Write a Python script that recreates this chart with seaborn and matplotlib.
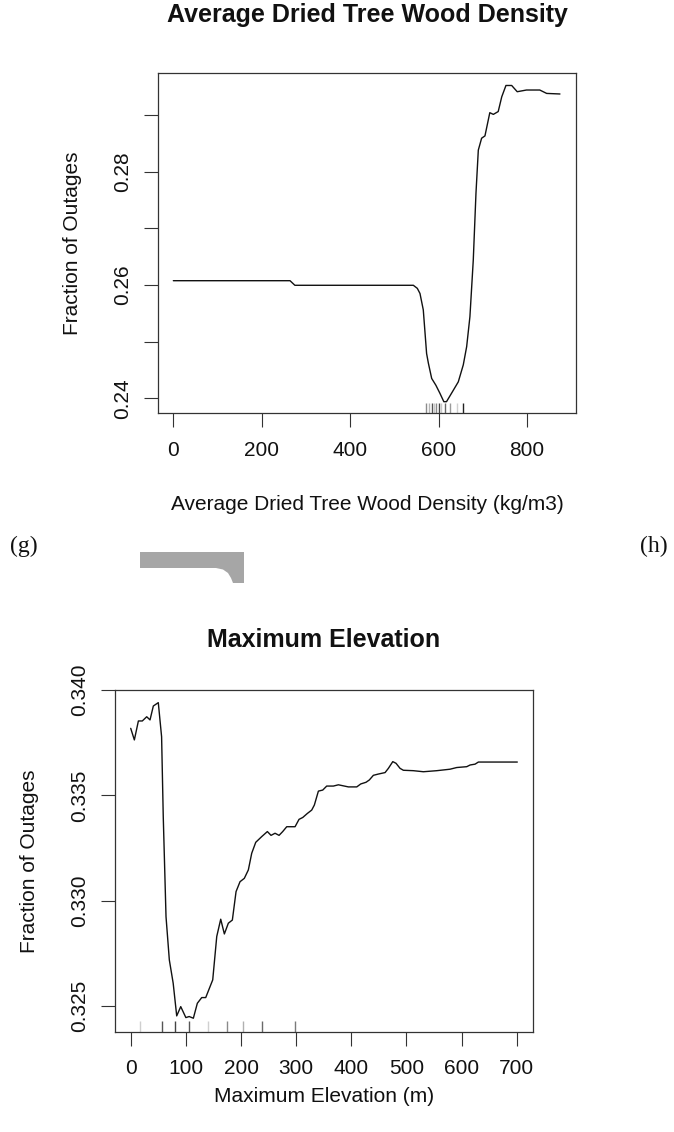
import numpy as np
import pandas as pd
import matplotlib
matplotlib.use("Agg")
import matplotlib.pyplot as plt
from matplotlib.patches import Polygon
import seaborn as sns

# ---------------- data ----------------
density_x = [0, 264, 275, 543, 552, 558, 565.5, 573, 577, 584.5, 594, 603, 612, 618,
             629.5, 644.7, 656, 663.6, 671, 678.6, 684.7, 690, 697.5, 705, 716, 724,
             735, 743, 752.5, 765.5, 778, 799, 829, 844.6, 874.7]
density_y = [0.26075, 0.26075, 0.25994, 0.25994, 0.2594, 0.2585, 0.2556, 0.2479, 0.2462,
             0.2435, 0.2423, 0.2409, 0.2394, 0.2394, 0.2409, 0.2429, 0.2459, 0.2491,
             0.2544, 0.2644, 0.2762, 0.2838, 0.2859, 0.2863, 0.2904, 0.2901, 0.2906,
             0.2932, 0.2952, 0.2952, 0.2941, 0.2944, 0.2944, 0.2938, 0.2937]
density_rug = [571.6, 579, 584.5, 589, 594, 600, 604.7, 614.4, 625.7, 640.8, 655.7]
density_rug_shade = ["#8c8c8c", "#b5b5b5", "#555555", "#c8c8c8", "#8c8c8c", "#444444",
                     "#c8c8c8", "#666666", "#9a9a9a", "#d0d0d0", "#222222"]
density_yticks = [0.24, 0.25, 0.26, 0.27, 0.28, 0.29]
density_ytick_labels = ["0.24", "", "0.26", "", "0.28", ""]
density_xticks = [0, 200, 400, 600, 800]

elev_x = [0, 6.6, 13.9, 21, 29, 35, 41, 50, 56, 59, 64, 70, 77, 83.4, 90.7, 100, 106,
          113.6, 120.8, 128.8, 136, 148.7, 156, 163.2, 169.8, 177, 184.3, 191, 198.2,
          206, 213.3, 219.4, 226.7, 237.5, 247.8, 254.4, 261.7, 269, 275.6, 282.9, 298,
          305.2, 312, 320.3, 328.2, 333, 340.3, 348.2, 355.4, 367.5, 376.6, 394.7, 409.9,
          417.1, 426.7, 432.7, 440, 449, 461.2, 467.2, 475.2, 481.1, 488.4, 494.4, 512.5,
          530.7, 555, 579, 591.2, 609.3, 615.4, 624.4, 630.4, 701]
elev_y = [0.33818, 0.33763, 0.33853, 0.33853, 0.33873, 0.33858, 0.33924, 0.3394, 0.33778,
          0.33399, 0.32924, 0.32719, 0.32608, 0.32453, 0.32497, 0.32445, 0.3245, 0.32442,
          0.32513, 0.3254, 0.3254, 0.32624, 0.3283, 0.32912, 0.32842, 0.32893, 0.32908,
          0.33043, 0.3309, 0.33106, 0.33146, 0.33225, 0.33277, 0.33304, 0.33328, 0.3331,
          0.3332, 0.3331, 0.33328, 0.33351, 0.33351, 0.33386, 0.33395, 0.33414, 0.3343,
          0.33454, 0.3352, 0.33525, 0.33544, 0.33544, 0.3355, 0.3354, 0.3354, 0.33554,
          0.33562, 0.33573, 0.33595, 0.33601, 0.33608, 0.33628, 0.3366, 0.33652, 0.33628,
          0.33619, 0.33617, 0.33612, 0.33617, 0.33624, 0.33632, 0.33636, 0.33644, 0.33648,
          0.33658, 0.33658]
elev_rug = [16.9, 56, 79.7, 106, 140.5, 173.7, 203.9, 238.3, 298.7]
elev_rug_shade = ["#cfcfcf", "#555555", "#444444", "#555555", "#d0d0d0", "#8a8a8a",
                  "#b0b0b0", "#6a6a6a", "#7a7a7a"]
elev_yticks = [0.325, 0.330, 0.335, 0.340]
elev_ytick_labels = ["0.325", "0.330", "0.335", "0.340"]
elev_xticks = [0, 100, 200, 300, 400, 500, 600, 700]

title_top = "Average Dried Tree Wood Density"
xlabel_top = "Average Dried Tree Wood Density (kg/m3)"
title_bot = "Maximum Elevation"
xlabel_bot = "Maximum Elevation (m)"
ylabel = "Fraction of Outages"

# ---------------- style ----------------
sns.set_theme(style="white")
plt.rcParams["font.family"] = ["Liberation Sans", "DejaVu Sans"]

W, H = 674, 1132
fig = plt.figure(figsize=(W / 100, H / 100), dpi=100)


def fx(p):
    return p / W


def fy(p):
    return 1 - p / H


def make_axes(left, top, right, bottom):
    return fig.add_axes([fx(left), fy(bottom), fx(right) - fx(left), fy(top) - fy(bottom)])


ax1 = make_axes(158.3, 73.3, 576, 413.3)
ax2 = make_axes(115, 690, 533.3, 1031.7)

df1 = pd.DataFrame({"x": density_x, "y": density_y})
df2 = pd.DataFrame({"x": elev_x, "y": elev_y})

sns.lineplot(data=df1, x="x", y="y", ax=ax1, color="#111111", lw=1.0, estimator=None, sort=False)
sns.lineplot(data=df2, x="x", y="y", ax=ax2, color="#111111", lw=1.0, estimator=None, sort=False)

for v, c in zip(density_rug, density_rug_shade):
    sns.rugplot(x=[v], ax=ax1, height=0.03, color=c, lw=0.9)
for v, c in zip(elev_rug, elev_rug_shade):
    sns.rugplot(x=[v], ax=ax2, height=0.03, color=c, lw=0.9)

ax1.set_xlim(-34, 911)
ax1.set_ylim(0.23735, 0.29735)
ax2.set_xlim(-28.5, 730)
ax2.set_ylim(0.32378, 0.340)

FS = 15
for ax, xt, yt, ytl in [(ax1, density_xticks, density_yticks, density_ytick_labels),
                         (ax2, elev_xticks, elev_yticks, elev_ytick_labels)]:
    ax.set_xticks(xt)
    ax.set_xticklabels([str(t) for t in xt], fontsize=FS, color="#111111")
    ax.set_yticks(yt)
    ax.set_yticklabels(ytl, fontsize=FS, rotation=90, va="center", color="#111111")
    ax.tick_params(axis="both", which="major", direction="out", length=9.8, width=0.8,
                   color="#333333", left=True, bottom=True)
    ax.tick_params(axis="x", pad=10)
    ax.tick_params(axis="y", pad=9)
    for s in ax.spines.values():
        s.set_visible(True)
        s.set_color("#333333")
        s.set_linewidth(0.9)
    ax.grid(False)

ax1.set_xlabel(xlabel_top, fontsize=FS, color="#111111", va="center")
ax1.xaxis.set_label_coords(0.5, -(505 - 413.3) / 340)
ax1.set_ylabel(ylabel, fontsize=FS, color="#111111", va="center")
ax1.yaxis.set_label_coords(-(158.3 - 73) / 417.7, 0.5)

ax2.set_xlabel(xlabel_bot, fontsize=FS, color="#111111", va="center")
ax2.xaxis.set_label_coords(0.5, -(1097 - 1031.7) / 341.7)
ax2.set_ylabel(ylabel, fontsize=FS, color="#111111", va="center")
ax2.yaxis.set_label_coords(-(115 - 30) / 418.3, 0.5)

fig.text(fx(367), fy(15), title_top, fontsize=18, fontweight="bold", ha="center", va="center", color="#111111")
fig.text(fx(324), fy(640), title_bot, fontsize=18, fontweight="bold", ha="center", va="center", color="#111111")

fig.text(fx(24), fy(546), "(g)", fontsize=17, ha="center", va="center",
         family=["Liberation Serif", "DejaVu Serif"], color="#111111")
fig.text(fx(654), fy(546), "(h)", fontsize=17, ha="center", va="center",
         family=["Liberation Serif", "DejaVu Serif"], color="#111111")

shape_px = [(140, 552), (244, 552), (244, 583), (233, 583), (231, 578), (228, 573),
            (223, 569.5), (216, 568), (140, 568)]
poly = Polygon([(fx(a), fy(b)) for a, b in shape_px], closed=True, transform=fig.transFigure,
               facecolor="#a6a6a6", edgecolor="none")
fig.patches.append(poly)

fig.savefig("out.png", dpi=100, facecolor="white")
